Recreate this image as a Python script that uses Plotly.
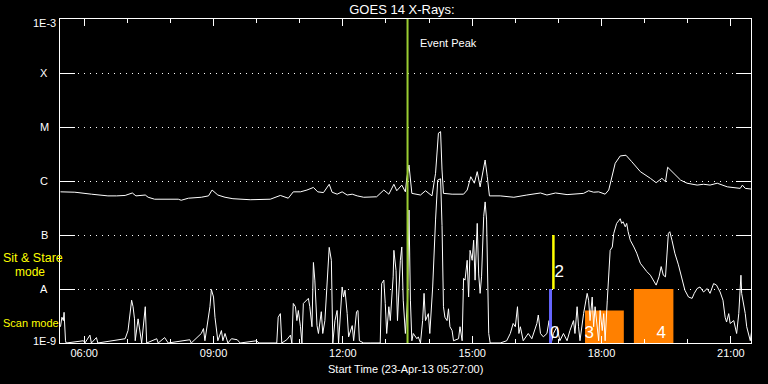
import math
import plotly.graph_objects as go

DAY = "2013-04-23 "

# Long-wavelength channel (upper curve)
LONG_TIME = ["05:27", "05:47", "06:10", "06:33", "06:45", "06:57", "07:07", "07:12", "07:25", "07:29",
             "07:38", "08:11", "08:15", "08:25", "08:43", "08:53", "08:58", "09:06", "09:16", "09:27",
             "09:51", "10:19", "10:33", "10:44", "10:51", "11:01", "11:10", "11:19", "11:25", "11:33",
             "11:41", "11:45", "11:52", "11:59", "12:06", "12:13", "12:20", "12:29", "12:47", "12:57",
             "13:04", "13:11", "13:15", "13:22", "13:27", "13:29", "13:32", "13:36", "13:48", "13:55",
             "14:04", "14:09", "14:13", "14:16", "14:18", "14:20", "14:32", "14:48", "14:53", "14:58",
             "15:03", "15:07", "15:11", "15:18", "15:21", "15:24", "15:39", "15:58", "16:16", "16:35",
             "16:44", "16:56", "17:12", "17:23", "17:35", "17:42", "17:49", "17:56", "18:05", "18:10",
             "18:15", "18:19", "18:26", "18:34", "18:42", "18:54", "19:08", "19:16", "19:24", "19:29",
             "19:32", "19:38", "19:50", "19:59", "20:13", "20:22", "20:31", "20:41", "20:55", "21:13",
             "21:16", "21:20", "21:28"]
LONG_FLUX = [6.3e-7, 6.2e-7, 5.7e-7, 5.3e-7, 5.3e-7, 5.4e-7, 6.0e-7, 5.3e-7, 5.5e-7, 5.0e-7,
             4.6e-7, 4.6e-7, 4.4e-7, 4.8e-7, 5.0e-7, 5.3e-7, 6.8e-7, 5.5e-7, 5.0e-7, 4.7e-7,
             4.5e-7, 4.6e-7, 5.4e-7, 4.8e-7, 6.3e-7, 6.3e-7, 6.8e-7, 7.6e-7, 6.3e-7, 6.1e-7,
             8.7e-7, 6.2e-7, 5.7e-7, 6.3e-7, 5.5e-7, 5.7e-7, 5.3e-7, 5.0e-7, 5.1e-7, 6.8e-7,
             5.7e-7, 8.7e-7, 6.6e-7, 8.4e-7, 6.3e-7, 1.14e-6, 1.98e-6, 5.9e-7, 5.5e-7, 6.6e-7,
             5.3e-7, 1.39e-6, 7.7e-6, 8.2e-6, 1.6e-6, 5.9e-7, 5.7e-7, 5.7e-7, 6.8e-7, 1.2e-6,
             9.1e-7, 1.49e-6, 7.8e-7, 2.45e-6, 1.2e-6, 5.3e-7, 5.3e-7, 5.0e-7, 5.5e-7, 6.0e-7,
             5.5e-7, 6.0e-7, 5.6e-7, 5.7e-7, 5.9e-7, 6.6e-7, 6.2e-7, 6.3e-7, 5.7e-7, 6.8e-7,
             1.2e-6, 2.13e-6, 2.91e-6, 3.0e-6, 2.28e-6, 1.49e-6, 1.12e-6, 9.3e-7, 1.12e-6, 9.7e-7,
             1.8e-6, 1.49e-6, 1.04e-6, 9.1e-7, 8.4e-7, 8.7e-7, 8.4e-7, 9.1e-7, 7.8e-7, 7.3e-7,
             8.4e-7, 7.3e-7, 7.1e-7]

# Short-wavelength channel (lower curve)
SHORT_TIME = ["05:27", "05:29", "05:31", "05:32", "05:34", "05:35", "05:59", "06:01", "06:08", "06:10",
              "06:17", "06:19", "06:57", "07:01", "07:06", "07:08", "07:10", "07:11", "07:15", "07:17",
              "07:20", "07:25", "07:27", "07:41", "07:43", "07:52", "07:57", "08:27", "08:29", "08:43",
              "08:46", "08:48", "08:55", "08:57", "09:00", "09:02", "09:04", "09:06", "09:11", "09:13",
              "09:16", "09:20", "09:25", "09:33", "09:37", "10:00", "10:03", "10:28", "10:30", "10:33",
              "10:35", "10:42", "10:47", "10:49", "10:51", "10:54", "10:56", "10:58", "11:01", "11:03",
              "11:05", "11:09", "11:12", "11:14", "11:17", "11:19", "11:21", "11:24", "11:26", "11:30",
              "11:32", "11:35", "11:38", "11:41", "11:44", "11:46", "11:49", "11:52", "11:54", "11:59",
              "12:01", "12:03", "12:06", "12:08", "12:13", "12:15", "12:19", "12:21", "12:23", "12:29",
              "12:38", "12:52", "12:54", "12:57", "12:59", "13:01", "13:04", "13:06", "13:10", "13:11",
              "13:14", "13:16", "13:20", "13:22", "13:24", "13:27", "13:30", "13:32", "13:34", "13:36",
              "13:38", "13:43", "13:45", "13:48", "13:51", "13:53", "13:55", "13:57", "13:59", "14:01",
              "14:05", "14:09", "14:12", "14:16", "14:18", "14:20", "14:22", "14:25", "14:27", "14:29",
              "14:32", "14:34", "14:41", "14:43", "14:46", "14:48", "14:50", "14:53", "14:55", "14:57",
              "15:00", "15:02", "15:04", "15:07", "15:09", "15:11", "15:13", "15:16", "15:18", "15:20",
              "15:23", "15:25", "15:39", "15:48", "15:53", "15:57", "16:00", "16:03", "16:05", "16:07",
              "16:11", "16:18", "16:23", "16:30", "16:32", "16:35", "16:39", "16:44", "16:47", "16:50",
              "16:53", "16:58", "17:02", "17:07", "17:12", "17:16", "17:21", "17:23", "17:26", "17:28",
              "17:30", "17:35", "17:40", "17:42", "17:44", "17:47", "17:49", "17:51", "17:54", "17:56",
              "17:58", "18:01", "18:03", "18:05", "18:08", "18:10", "18:12", "18:15", "18:17", "18:21",
              "18:24", "18:26", "18:28", "18:30", "18:33", "18:35", "18:37", "18:40", "18:45", "18:49",
              "18:54", "18:59", "19:03", "19:08", "19:12", "19:16", "19:20", "19:23", "19:26", "19:29",
              "19:33", "19:35", "19:38", "19:42", "19:47", "19:52", "19:56", "20:01", "20:06", "20:09",
              "20:13", "20:17", "20:22", "20:27", "20:31", "20:36", "20:40", "20:45", "20:49", "20:52",
              "20:54", "20:57", "20:59", "21:04", "21:08", "21:11", "21:14", "21:15", "21:18", "21:20",
              "21:22", "21:27", "21:29"]
SHORT_FLUX = [2.0e-9, 3.0e-9, 2.6e-9, 3.7e-9, 1.1e-9, 1.0e-9, 1.1e-9, 1.0e-9, 1.4e-9, 1.0e-9,
              1.26e-9, 1.0e-9, 1.2e-9, 1.7e-9, 6.2e-9, 4.7e-9, 2.8e-9, 1.1e-9, 2.8e-9, 1.7e-9,
              1.0e-9, 4.7e-9, 1.0e-9, 1.2e-9, 1.0e-9, 1.26e-9, 1.0e-9, 1.15e-9, 1.0e-9, 1.5e-9,
              1.85e-9, 1.1e-9, 4.7e-9, 9.8e-9, 7.1e-9, 3.0e-9, 1.7e-9, 1.1e-9, 1.7e-9, 1.1e-9,
              1.5e-9, 1.0e-9, 1.2e-9, 1.15e-9, 1.0e-9, 1.1e-9, 1.0e-9, 1.0e-9, 3.0e-9, 3.5e-9,
              1.0e-9, 1.15e-9, 1.4e-9, 1.0e-9, 5.4e-9, 4.7e-9, 2.6e-9, 4.0e-9, 2.0e-9, 1.0e-9,
              5.4e-9, 6.2e-9, 6.7e-9, 4.7e-9, 2.0e-9, 3.1e-8, 1.46e-8, 2.1e-9, 1.5e-9, 3.8e-9,
              1.5e-9, 2.6e-9, 1.26e-8, 5.9e-8, 3.4e-8, 1.0e-9, 2.6e-9, 4.0e-9, 1.0e-9, 1.09e-8,
              7.1e-9, 9.5e-9, 3.5e-9, 1.3e-9, 2.1e-9, 1.1e-9, 3.8e-9, 4.0e-9, 1.1e-9, 1.0e-9,
              1.0e-9, 1.0e-9, 1.26e-8, 1.46e-8, 5.4e-9, 1.5e-9, 4.7e-9, 2.6e-9, 1.68e-8, 5.2e-8,
              2.2e-8, 2.6e-9, 3.4e-8, 6.0e-8, 6.2e-9, 1.5e-9, 6.2e-9, 2.9e-7, 6.2e-9, 1.1e-9,
              1.5e-9, 1.2e-9, 1.3e-9, 1.0e-9, 2.6e-9, 8.3e-9, 2.6e-9, 3.0e-9, 3.5e-9, 1.5e-9,
              1.09e-8, 1.9e-7, 1.04e-6, 1.1e-6, 1.5e-7, 4.7e-9, 3.0e-9, 2.6e-9, 4.3e-9, 2.0e-9,
              1.7e-9, 1.1e-9, 1.2e-9, 2.0e-9, 1.1e-9, 1.57e-8, 1.46e-8, 3.4e-8, 7.1e-9, 5.2e-8,
              3.4e-8, 8.0e-8, 1.46e-8, 1.64e-7, 1.9e-8, 8.3e-9, 1.68e-8, 2.2e-7, 4.1e-7, 1.9e-7,
              1.5e-9, 1.0e-9, 1.0e-9, 1.1e-9, 1.5e-9, 2.3e-9, 2.0e-9, 4.7e-9, 1.5e-9, 2.0e-9,
              1.1e-9, 1.5e-9, 1.2e-9, 2.3e-9, 3.3e-9, 1.5e-9, 1.3e-9, 1.5e-9, 2.6e-9, 1.0e-9,
              1.5e-9, 2.0e-9, 1.1e-9, 1.5e-9, 1.1e-9, 1.7e-9, 2.6e-9, 1.5e-9, 4.7e-9, 2.0e-9,
              1.1e-9, 3.5e-9, 8.3e-9, 6.2e-9, 2.6e-9, 7.1e-9, 2.0e-9, 4.7e-9, 2.0e-9, 1.1e-9,
              4.0e-9, 1.7e-9, 3.5e-9, 1.1e-9, 6.2e-9, 1.9e-8, 5.2e-8, 6.0e-8, 1.07e-7, 1.64e-7,
              1.9e-7, 2.0e-7, 1.64e-7, 1.76e-7, 1.42e-7, 1.64e-7, 1.15e-7, 8.0e-8, 6.0e-8, 4.6e-8,
              3.0e-8, 2.4e-8, 2.1e-8, 1.8e-8, 1.46e-8, 1.18e-8, 1.68e-8, 2.6e-8, 1.8e-8, 1.68e-8,
              1.07e-7, 1.15e-7, 8.0e-8, 4.6e-8, 2.8e-8, 1.46e-8, 9.5e-9, 7.1e-9, 6.7e-9, 8.3e-9,
              1.02e-8, 1.09e-8, 8.8e-9, 1.02e-8, 8.3e-9, 1.26e-8, 1.18e-8, 8.8e-9, 6.2e-9, 3.0e-9,
              2.45e-9, 3.5e-9, 2.3e-9, 2.6e-9, 1.5e-9, 3.5e-9, 1.8e-8, 8.3e-9, 5.4e-9, 3.5e-9,
              2.0e-9, 1.1e-9, 1.7e-9]

# Event peak
EVENT_PEAK_TIME = "13:30"

# Observing mode markers
SAS_TIME = "16:53"          # sit & stare segment (yellow)
SAS_RANGE = [1e-8, 1e-7]
SCAN_TIME = "16:49"         # scan segment (blue)
SCAN_RANGE = [1e-9, 1e-8]

# Orange blocks
BLOCK_START = ["17:37", "18:45"]
BLOCK_END = ["18:31", "19:40"]
BLOCK_TOP = [4.0e-9, 1.0e-8]
BLOCK_BASE = 1e-9

# Numbered labels
NUM_LABELS = ["0", "2", "3", "4"]
NUM_TIME = ["16:55", "17:01", "17:43", "19:23"]
NUM_FLUX = [1.48e-9, 2.0e-8, 1.48e-9, 1.48e-9]

# Y levels and labels
LEVELS = [1e-9, 1e-8, 1e-7, 1e-6, 1e-5, 1e-4, 1e-3]
LEVEL_LABELS = ["1E-9", "A", "B", "C", "M", "X", "1E-3"]

X_RANGE = ["2013-04-23 05:26:20", "2013-04-23 21:28:00"]

FONT = "Liberation Sans"
W, H = 768, 384
ML, MR, MT, MB = 60, 17, 19, 41
PW, PH = W - ML - MR, H - MT - MB


def px_x(p):
    return (p - ML) / PW


def px_y(p):
    return (H - MB - p) / PH


def ts(t):
    return DAY + t


fig = go.Figure()

# orange blocks
for s, e, top in zip(BLOCK_START, BLOCK_END, BLOCK_TOP):
    fig.add_trace(go.Scatter(
        x=[ts(s), ts(e), ts(e), ts(s), ts(s)],
        y=[BLOCK_BASE, BLOCK_BASE, top, top, BLOCK_BASE],
        fill="toself", fillcolor="#ff8000", line=dict(width=0, color="#ff8000"),
        mode="lines", hoverinfo="skip", showlegend=False))

# curves
fig.add_trace(go.Scatter(x=[ts(t) for t in LONG_TIME], y=LONG_FLUX, mode="lines",
                         line=dict(color="white", width=1), showlegend=False))
fig.add_trace(go.Scatter(x=[ts(t) for t in SHORT_TIME], y=SHORT_FLUX, mode="lines",
                         line=dict(color="white", width=1), showlegend=False))

# mode segments
fig.add_trace(go.Scatter(x=[ts(SCAN_TIME)] * 2, y=SCAN_RANGE, mode="lines",
                         line=dict(color="#6666ff", width=3), showlegend=False))
fig.add_trace(go.Scatter(x=[ts(SAS_TIME)] * 2, y=SAS_RANGE, mode="lines",
                         line=dict(color="#ffff00", width=2.5), showlegend=False))

# event peak line
fig.add_trace(go.Scatter(x=[ts(EVENT_PEAK_TIME)] * 2, y=[LEVELS[-1], LEVELS[0]], mode="lines",
                         line=dict(color="#9acd32", width=2), showlegend=False))

# number labels
fig.add_trace(go.Scatter(x=[ts(t) for t in NUM_TIME], y=NUM_FLUX, mode="text", text=NUM_LABELS,
                         textfont=dict(color="white", size=17, family=FONT),
                         textposition="middle center", showlegend=False))

annotations = []
for lv, lab in zip(LEVELS, LEVEL_LABELS):
    shift = 0
    if lab == "1E-3":
        shift = -4
    elif lab == "1E-9":
        shift = 2
    annotations.append(dict(x=px_x(44), xref="paper", y=math.log10(lv), yref="y",
                            text=lab, showarrow=False, xanchor="center", yanchor="middle",
                            yshift=shift, font=dict(color="white", size=11, family=FONT)))

annotations += [
    dict(x=0.5, xref="paper", y=px_y(368.5), yref="paper", text="Start Time (23-Apr-13 05:27:00)",
         showarrow=False, xanchor="center", yanchor="middle", font=dict(color="white", size=11, family=FONT)),
    dict(x=ts(EVENT_PEAK_TIME), xref="x", xshift=10, y=px_y(43), yref="paper", text="Event Peak",
         showarrow=False, xanchor="left", yanchor="middle", font=dict(color="white", size=11, family=FONT)),
    dict(x=px_x(1), xref="paper", y=px_y(258), yref="paper", text="Sit & Stare",
         showarrow=False, xanchor="left", yanchor="middle", font=dict(color="#ffff00", size=12.5, family=FONT)),
    dict(x=px_x(12.5), xref="paper", y=px_y(271.5), yref="paper", text="mode",
         showarrow=False, xanchor="left", yanchor="middle", font=dict(color="#ffff00", size=12, family=FONT)),
    dict(x=px_x(1), xref="paper", y=px_y(323), yref="paper", text="Scan mode",
         showarrow=False, xanchor="left", yanchor="middle", font=dict(color="#ffff00", size=11, family=FONT)),
]

fig.update_layout(
    width=W, height=H,
    margin=dict(l=ML, r=MR, t=MT, b=MB, pad=0),
    paper_bgcolor="black", plot_bgcolor="black",
    title=dict(text="GOES 14 X-Rays:", x=402 / W, xanchor="center",
               y=1 - 9.7 / H, yanchor="middle", font=dict(color="white", size=13, family=FONT)),
    annotations=annotations,
    showlegend=False,
    xaxis=dict(type="date", range=X_RANGE, showgrid=False, zeroline=False,
               showline=True, linecolor="white", linewidth=1, mirror="ticks",
               ticks="inside", ticklen=7, tickcolor="white", tickwidth=1,
               tick0="2013-04-23 00:00:00", dtick=3 * 3600000, tickformat="%H:%M",
               tickfont=dict(color="white", size=11, family=FONT),
               minor=dict(dtick=3600000, ticklen=4, ticks="inside", tickcolor="white", showgrid=False)),
    yaxis=dict(type="log", range=[-9, -3], tickvals=LEVELS, showticklabels=False,
               showline=True, linecolor="white", linewidth=1, mirror="ticks",
               ticks="inside", ticklen=15, tickcolor="white", tickwidth=1.2,
               showgrid=True, gridcolor="white", gridwidth=1, griddash="1px,5px", zeroline=False),
)

fig.write_html("out.html", config={"displayModeBar": False},
               post_script="document.body.style.margin='0px';document.body.style.overflow='hidden';")
